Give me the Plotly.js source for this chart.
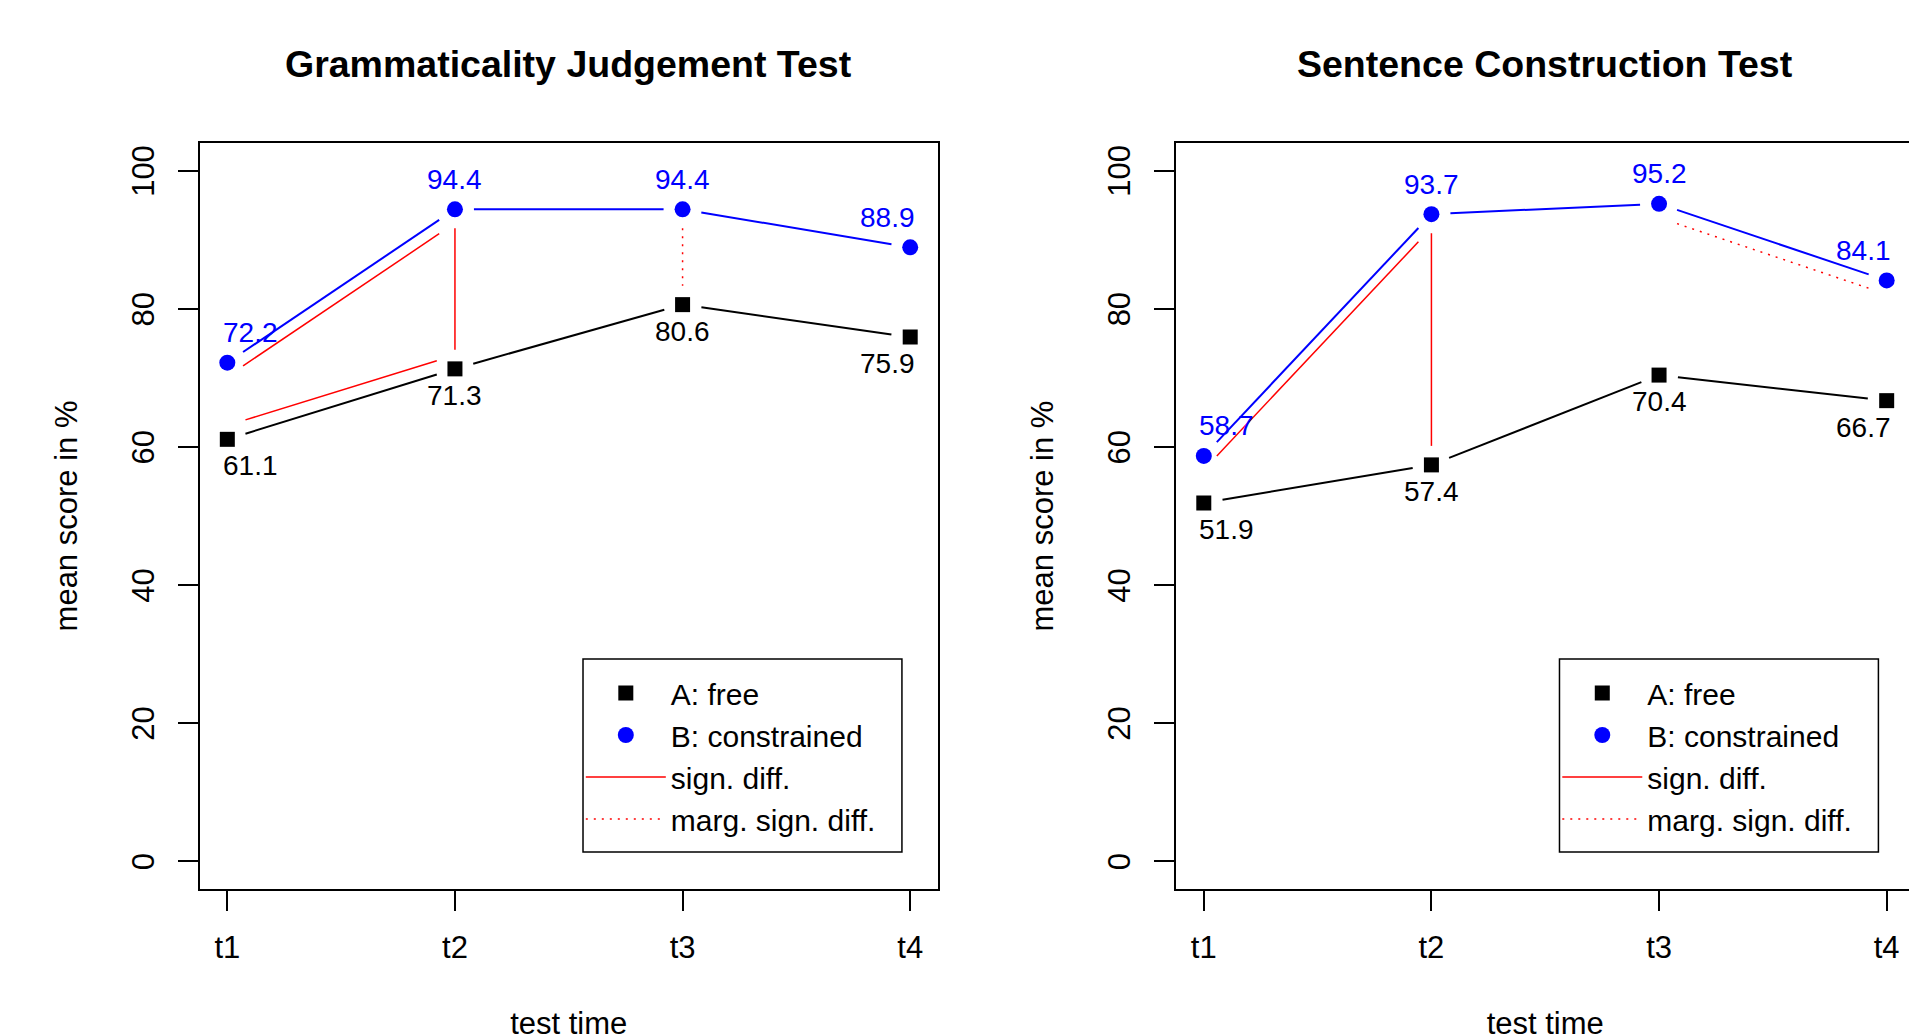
<!DOCTYPE html>
<html>
<head>
<meta charset="utf-8">
<script src="https://cdn.plot.ly/plotly-3.0.1.min.js"></script>
<style>
html,body{margin:0;padding:0;background:#fff;overflow:hidden;}
#wrap{width:1909px;height:1034px;overflow:hidden;position:relative;}
#plot{width:1953px;height:1100px;}
</style>
</head>
<body>
<div id="wrap"><div id="plot"></div></div>
<script>
// ---------------- data ----------------
const times = ['t1', 't2', 't3', 't4'];
const yTickVals = [0, 20, 40, 60, 80, 100];
const panelTitles = ['Grammaticality Judgement Test', 'Sentence Construction Test'];
const groupNames = ['A: free', 'B: constrained'];
const sigNames = ['sign. diff.', 'marg. sign. diff.'];
const xTitle = 'test time';
const yTitle = 'mean score in %';

const gjtFree = [61.1, 71.3, 80.6, 75.9];
const gjtConstrained = [72.2, 94.4, 94.4, 88.9];
const sctFree = [51.9, 57.4, 70.4, 66.7];
const sctConstrained = [58.7, 93.7, 95.2, 84.1];

// changes over time within one group: [group, fromTime, toTime, level]
const gjtTimeDiffs = [['B', 0, 1, 'sig'], ['A', 0, 1, 'sig']];
const sctTimeDiffs = [['B', 0, 1, 'sig'], ['B', 2, 3, 'marg']];
// group differences at one test time: [time, level]
const gjtGroupDiffs = [[1, 'sig'], [2, 'marg']];
const sctGroupDiffs = [[1, 'sig']];

// ---------------- geometry / style ----------------
const W = 1953, H = 1100;
const M = {l: 199.6, r: 39, t: 143.3, b: 210.7};
const plotW = W - M.l - M.r;
const plotH = H - M.t - M.b;
const panelW = 737.7, panelStep = 976.7;
const XR = [0.88, 4.12], YR = [-4, 104];
const kx = panelW / (XR[1] - XR[0]);
const ky = plotH / (YR[1] - YR[0]);
const GAP = 19;      // px gap between line ends and points (R type="b")
const OFF = 2;       // vertical offset of the red time-difference lines
const FONT = 'Liberation Sans, Arial, Helvetica, sans-serif';
const BLUE = '#0000ff', RED = '#ff0000';
const pxX = p => (p - M.l) / plotW;
const pxY = p => (H - M.b - p) / plotH;

const xs = times.map((_, i) => i + 1);

function trimSeg(x0, y0, x1, y1) {
  const dx = (x1 - x0) * kx, dy = (y1 - y0) * ky;
  const L = Math.hypot(dx, dy);
  if (L <= 2 * GAP) return null;
  const t = GAP / L;
  return [[x0 + (x1 - x0) * t, x1 - (x1 - x0) * t], [y0 + (y1 - y0) * t, y1 - (y1 - y0) * t]];
}
function pushSeg(acc, s) {
  if (!s) return;
  acc.x.push(s[0][0], s[0][1], null);
  acc.y.push(s[1][0], s[1][1], null);
}
function seriesLine(vals) {
  const acc = {x: [], y: []};
  for (let i = 0; i < vals.length - 1; i++) pushSeg(acc, trimSeg(xs[i], vals[i], xs[i + 1], vals[i + 1]));
  return acc;
}

function panel(A, B, timeDiffs, groupDiffs, xa, ya, leg) {
  const traces = [];
  const la = seriesLine(A), lb = seriesLine(B);
  traces.push({x: la.x, y: la.y, xaxis: xa, yaxis: ya, mode: 'lines', line: {color: 'black', width: 2},
    showlegend: false, hoverinfo: 'skip'});
  traces.push({x: lb.x, y: lb.y, xaxis: xa, yaxis: ya, mode: 'lines', line: {color: BLUE, width: 2},
    showlegend: false, hoverinfo: 'skip'});
  ['sig', 'marg'].forEach((lev, k) => {
    const acc = {x: [], y: []};
    timeDiffs.filter(d => d[3] === lev).forEach(d => {
      const v = d[0] === 'A' ? A : B;
      const off = d[0] === 'A' ? OFF : -OFF;
      pushSeg(acc, trimSeg(xs[d[1]], v[d[1]] + off, xs[d[2]], v[d[2]] + off));
    });
    groupDiffs.filter(d => d[1] === lev).forEach(d => {
      pushSeg(acc, trimSeg(xs[d[0]], B[d[0]], xs[d[0]], A[d[0]]));
    });
    traces.push({x: acc.x, y: acc.y, xaxis: xa, yaxis: ya, mode: 'lines', name: sigNames[k],
      legend: leg, legendrank: 3 + k, showlegend: true, hoverinfo: 'skip',
      line: {color: RED, width: 1.5, dash: lev === 'sig' ? 'solid' : '2px,6px'}});
  });
  traces.push({x: xs, y: A, xaxis: xa, yaxis: ya, mode: 'markers', name: groupNames[0], legend: leg,
    legendrank: 1, marker: {symbol: 'square', size: 15, color: 'black', line: {width: 0}}});
  traces.push({x: xs, y: B, xaxis: xa, yaxis: ya, mode: 'markers', name: groupNames[1], legend: leg,
    legendrank: 2, marker: {symbol: 'circle', size: 16, color: BLUE, line: {width: 0}}});
  return traces;
}

function labels(vals, color, above, xa, ya) {
  const n = vals.length;
  return vals.map((v, i) => ({
    x: xs[i], y: v, xref: xa, yref: ya, text: v.toFixed(1), showarrow: false,
    font: {family: FONT, size: 28, color: color},
    xanchor: i === 0 ? 'left' : (i === n - 1 ? 'right' : 'center'),
    xshift: i === 0 ? -6.5 : (i === n - 1 ? 6.5 : 0),
    yanchor: 'middle', yshift: above ? 30 : -26.5
  }));
}

const data = [].concat(
  panel(gjtFree, gjtConstrained, gjtTimeDiffs, gjtGroupDiffs, 'x', 'y', 'legend'),
  panel(sctFree, sctConstrained, sctTimeDiffs, sctGroupDiffs, 'x2', 'y2', 'legend2')
);

const axisBase = {
  showline: true, linecolor: 'black', linewidth: 2, mirror: true,
  ticks: 'outside', ticklen: 20, tickwidth: 2, tickcolor: 'black',
  showgrid: false, zeroline: false, automargin: true,
  tickfont: {family: FONT, size: 31, color: 'black'}
};
function xAxis(dom) {
  return Object.assign({}, axisBase, {domain: dom, range: XR, tickmode: 'array', tickvals: xs, ticktext: times,
    ticklabelstandoff: 10,
    title: {text: xTitle, font: {family: FONT, size: 31, color: 'black'}, standoff: 48.5}});
}
function yAxis(anchor) {
  return Object.assign({}, axisBase, {anchor: anchor, range: YR, tickmode: 'array', tickvals: yTickVals, tickangle: -90,
    ticklabelstandoff: 12, ticklabelshift: 5,
    title: {text: yTitle, font: {family: FONT, size: 31, color: 'black'}, standoff: 39}});
}

const titleAnns = panelTitles.map((t, i) => ({
  text: t, xref: i === 0 ? 'x domain' : 'x2 domain', x: 0.5, yref: 'paper', y: pxY(64.7),
  xanchor: 'center', yanchor: 'middle', showarrow: false,
  font: {family: FONT, size: 37.5, color: 'black', weight: 'bold'}
}));

function legendBox(shift) {
  return {type: 'rect', xref: 'paper', yref: 'paper',
    x0: pxX(582.7 + shift), x1: pxX(901.7 + shift), y0: pxY(852.3), y1: pxY(659.3),
    line: {color: 'black', width: 1.5}, fillcolor: 'rgba(0,0,0,0)'};
}
function legendCfg(shift) {
  return {x: pxX(580.5 + shift), y: pxY(667.3), xanchor: 'left', yanchor: 'top',
    bgcolor: 'rgba(0,0,0,0)', borderwidth: 0, itemwidth: 80, traceorder: 'normal',
    font: {family: FONT, size: 30, color: 'black'}};
}

const layout = {
  width: W, height: H, margin: M,
  paper_bgcolor: 'white', plot_bgcolor: 'white',
  font: {family: FONT, color: 'black'},
  xaxis: xAxis([0, panelW / plotW]),
  xaxis2: xAxis([panelStep / plotW, 1]),
  yaxis: yAxis('x'),
  yaxis2: yAxis('x2'),
  showlegend: true,
  legend: legendCfg(0),
  legend2: legendCfg(panelStep),
  shapes: [legendBox(0), legendBox(panelStep)],
  annotations: [].concat(
    titleAnns,
    labels(gjtFree, 'black', false, 'x', 'y'),
    labels(gjtConstrained, BLUE, true, 'x', 'y'),
    labels(sctFree, 'black', false, 'x2', 'y2'),
    labels(sctConstrained, BLUE, true, 'x2', 'y2')
  )
};

Plotly.newPlot('plot', data, layout, {staticPlot: true, displayModeBar: false});
</script>
</body>
</html>
